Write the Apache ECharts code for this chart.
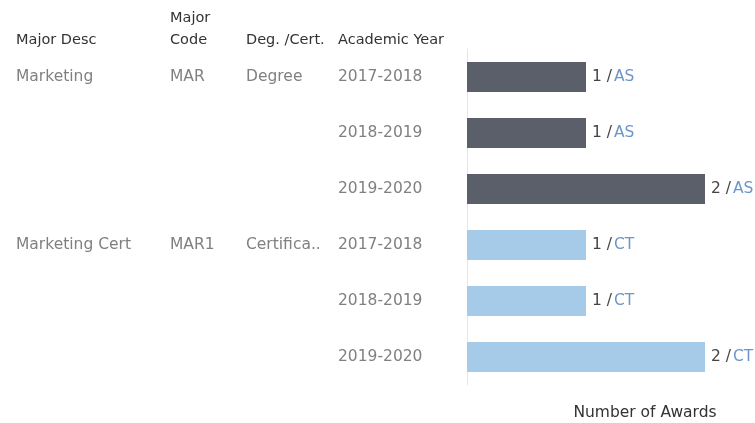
<!DOCTYPE html>
<html>
<head>
<meta charset="utf-8">
<script src="https://cdn.jsdelivr.net/npm/echarts@6/dist/echarts.min.js"></script>
<style>
  html, body { margin: 0; padding: 0; background: #fff; }
  #chart { width: 755px; height: 423px; }
</style>
</head>
<body>
<div id="chart"></div>
<script>
// table columns, one entry per row
const majorDesc = ['Marketing', '', '', 'Marketing Cert', '', '']
const majorCode = ['MAR', '', '', 'MAR1', '', '']
const degCert = ['Degree', '', '', 'Certifica..', '', '']
const academicYear = ['2017-2018', '2018-2019', '2019-2020', '2017-2018', '2018-2019', '2019-2020']
const awards = [1, 1, 2, 1, 1, 2]
const awardType = ['AS', 'AS', 'AS', 'CT', 'CT', 'CT']

const headers = ['Major Desc', 'Major\nCode', 'Deg. /Cert.', 'Academic Year']
const colors = { AS: '#5b5f69', CT: '#a6cbe8' }

const font = '"DejaVu Sans", "Noto Sans", sans-serif'
const chart = echarts.init(document.getElementById('chart'))

const headerX = [16, 170, 246, 338]
const cell = w => ({ width: w, color: '#808080', fontSize: 15.5, fontFamily: font })

chart.setOption({
  animation: false,
  grid: { left: 467, right: 50, top: 49, bottom: 38, outerBoundsMode: 'none' },
  xAxis: {
    type: 'value',
    min: 0,
    max: 2,
    axisLine: { show: false },
    axisTick: { show: false },
    axisLabel: { show: false },
    splitLine: { show: false },
    name: 'Number of Awards',
    nameLocation: 'middle',
    nameGap: 20,
    nameTextStyle: { color: '#333', fontSize: 15.5, fontFamily: font, padding: [0, 0, 0, 118] }
  },
  yAxis: {
    type: 'category',
    inverse: true,
    data: academicYear.map((y, i) => i),
    axisLine: { show: true, lineStyle: { color: '#e6e6e6', width: 1 } },
    axisTick: { show: false },
    axisLabel: {
      align: 'left',
      margin: 451,
      formatter: i => '{a|' + majorDesc[i] + '}{b|' + majorCode[i] + '}{c|' + degCert[i] + '}{d|' + academicYear[i] + '}',
      rich: { a: cell(154), b: cell(76), c: cell(92), d: cell(110) }
    }
  },
  graphic: headers.map((h, i) => ({
    type: 'text',
    left: headerX[i],
    bottom: 423 - 51,
    style: { text: h, fill: '#333', font: '14.5px ' + font, lineHeight: 22 }
  })),
  series: [{
    type: 'bar',
    barWidth: 30,
    data: awards.map((v, i) => ({
      value: v,
      itemStyle: { color: colors[awardType[i]] }
    })),
    label: {
      show: true,
      position: 'right',
      distance: 6,
      formatter: p => '{v|' + p.value + ' /}{t|' + awardType[p.dataIndex] + '}',
      rich: {
        v: { color: '#444', fontSize: 15.5, fontFamily: font },
        t: { color: '#6c95c9', fontSize: 15.5, fontFamily: font, padding: [0, 0, 0, 2] }
      }
    }
  }]
})
</script>
</body>
</html>
